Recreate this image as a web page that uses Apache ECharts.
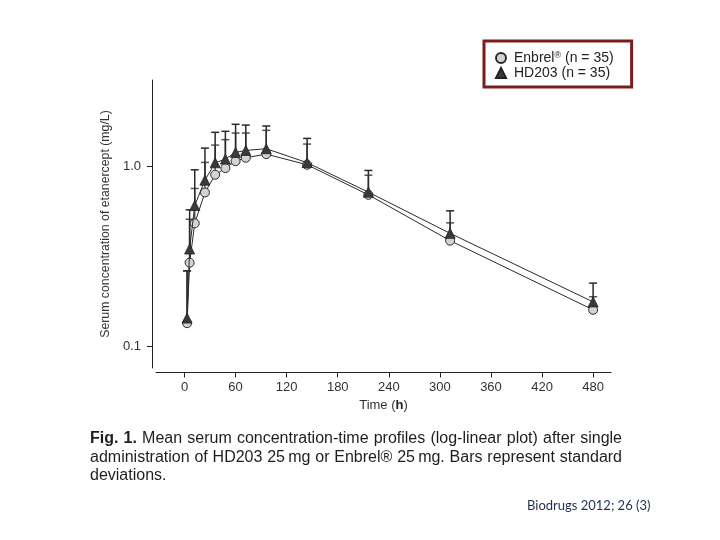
<!DOCTYPE html>
<html><head><meta charset="utf-8">
<script src="https://cdn.jsdelivr.net/npm/echarts@6/dist/echarts.min.js"></script>
<style>html,body{margin:0;padding:0;background:#fff}#c{width:720px;height:540px}</style>
</head><body><div id="c"></div>
<script>
// ---- data ----
const times = [3, 6, 12, 24, 36, 48, 60, 72, 96, 144, 216, 312, 480];
const enbrelMean  = [0.134, 0.291, 0.482, 0.716, 0.899, 0.979, 1.070, 1.118, 1.171, 1.022, 0.695, 0.386, 0.159];
const enbrelUpper = [0.262, 0.508, 0.754, 1.053, 1.315, 1.410, 1.535, 1.535, 1.589, 1.332, 0.894, 0.485, 0.188];
const hd203Mean   = [0.143, 0.347, 0.606, 0.839, 1.048, 1.099, 1.197, 1.228, 1.255, 1.050, 0.719, 0.424, 0.176];
const hd203Upper  = [0.262, 0.573, 0.958, 1.265, 1.549, 1.569, 1.717, 1.700, 1.680, 1.433, 0.950, 0.566, 0.224];
const xTicks = [0, 60, 120, 180, 240, 300, 360, 420, 480];
const yTicks = [0.1, 1];
const yTickLabels = ['0.1', '1.0'];
const seriesNames = ['Enbrel', 'HD203'];
const legendLabels = ['Enbrel® (n = 35)', 'HD203 (n = 35)'];
const captionLines = [
  'Fig. 1. Mean serum concentration-time profiles (log-linear plot) after single',
  'administration of HD203 25\u2009mg or Enbrel® 25\u2009mg. Bars represent standard',
  'deviations.'
];
const sourceText = 'Biodrugs 2012; 26 (3)';

// ---- chart ----
const FONT = '"Liberation Sans", Arial, Helvetica, sans-serif';
const chart = echarts.init(document.getElementById('c'), null, {renderer: 'canvas'});

function errorSeries(name, means, uppers, color) {
  return {
    type: 'custom', name: name, z: 1, silent: true,
    data: times.map((t, i) => [t, means[i], uppers[i]]),
    encode: {x: 0, y: [1, 2]},
    renderItem(params, api) {
      const p0 = api.coord([api.value(0), api.value(1)]);
      const p1 = api.coord([api.value(0), api.value(2)]);
      const hw = 4;
      return {type: 'group', children: [
        {type: 'line', shape: {x1: p0[0], y1: p0[1], x2: p1[0], y2: p1[1]}, style: {stroke: color, lineWidth: 1.5}},
        {type: 'line', shape: {x1: p1[0] - hw, y1: p1[1], x2: p1[0] + hw, y2: p1[1]}, style: {stroke: color, lineWidth: 1.5}}
      ]};
    }
  };
}

// justified caption built from words
const mctx = document.createElement('canvas').getContext('2d');
const capLeft = 90, capRight = 622, capTop = 439, capStep = 18.5, capSize = 16;
const graphics = [];
captionLines.forEach((line, li) => {
  const words = line.split(' ');
  const fonts = words.map((w, wi) => (li === 0 && wi < 2) ? 'bold ' + capSize + 'px ' + FONT : capSize + 'px ' + FONT);
  const widths = words.map((w, wi) => { mctx.font = fonts[wi]; return mctx.measureText(w).width; });
  const total = widths.reduce((a, b) => a + b, 0);
  const justify = li < captionLines.length - 1;
  mctx.font = capSize + 'px ' + FONT;
  const gap = justify ? (capRight - capLeft - total) / (words.length - 1) : mctx.measureText(' ').width;
  let x = capLeft;
  words.forEach((w, wi) => {
    graphics.push({type: 'text', x: x, y: capTop + li * capStep, silent: true,
      style: {text: w, font: fonts[wi], fill: '#1e1e1e', verticalAlign: 'middle', align: 'left'}});
    x += widths[wi] + gap;
  });
});
graphics.push({type: 'text', left: 527, top: 499, silent: true,
  style: {text: sourceText, fontFamily: 'Lato', fontSize: 13, fill: '#1f3050'}});

const option = {
  animation: false,
  backgroundColor: '#ffffff',
  textStyle: {fontFamily: FONT},
  grid: {left: 156, right: 109, top: 80, bottom: 172},
  legend: {
    left: 484, top: 41, orient: 'vertical', selectedMode: false,
    itemWidth: 10, itemHeight: 10, itemGap: 1,
    padding: [10, 18, 7, 11],
    borderColor: '#7a1c1c', borderWidth: 3, borderRadius: 0,
    data: [{name: seriesNames[0], icon: 'circle'}, {name: seriesNames[1], icon: 'triangle'}],
    formatter: n => n === seriesNames[0] ? '{g| }{a|Enbrel}{s|®}{a| (n = 35)}' : '{g| }{a|' + legendLabels[1] + '}',
    textStyle: {fontSize: 14, color: '#222', fontFamily: FONT,
      rich: {g: {width: 3, fontSize: 14}, a: {fontSize: 14, color: '#222', fontFamily: FONT}, s: {fontSize: 9, color: '#222', verticalAlign: 'top', fontFamily: FONT}}}
  },
  xAxis: {
    type: 'value', min: -33.5, max: 501, offset: 4.5,
    axisLine: {onZero: false, lineStyle: {color: '#222', width: 1}},
    axisTick: {customValues: xTicks, length: 5, lineStyle: {color: '#222'}},
    axisLabel: {customValues: xTicks, margin: 8, fontSize: 13, color: '#333', fontFamily: FONT},
    splitLine: {show: false},
    name: '{n|Time (}{b|h}{n|)}', nameLocation: 'middle', nameGap: 26,
    nameTextStyle: {fontSize: 13, color: '#333', rich: {n: {fontSize: 13, color: '#333'}, b: {fontSize: 13, color: '#222', fontWeight: 'bold'}}}
  },
  yAxis: {
    type: 'log', logBase: 10, min: 0.0754, max: 3.03, offset: 4,
    axisLine: {show: true, onZero: false, lineStyle: {color: '#222', width: 1}},
    axisTick: {show: true, customValues: yTicks, length: 5, lineStyle: {color: '#222'}},
    axisLabel: {customValues: yTicks, margin: 11, fontSize: 13, color: '#333', fontFamily: FONT,
      formatter: v => yTickLabels[yTicks.findIndex(t => Math.abs(t - v) < 1e-6 * Math.max(1, t))] || ''},
    splitLine: {show: false},
    name: 'Serum concentration of etanercept (mg/L)', nameLocation: 'middle', nameGap: 39,
    nameTextStyle: {fontSize: 12.3, color: '#333'}
  },
  series: [
    errorSeries('Enbrel SD', enbrelMean, enbrelUpper, '#555'),
    errorSeries('HD203 SD', hd203Mean, hd203Upper, '#2a2a2a'),
    {type: 'line', name: seriesNames[0], z: 3, data: times.map((t, i) => [t, enbrelMean[i]]),
      symbol: 'circle', symbolSize: 9,
      itemStyle: {color: '#d3d3d3', borderColor: '#2a2a2a', borderWidth: 1},
      lineStyle: {color: '#2a2a2a', width: 1}},
    {type: 'line', name: seriesNames[1], z: 4, data: times.map((t, i) => [t, hd203Mean[i]]),
      symbol: 'triangle', symbolSize: 10,
      itemStyle: {color: '#3a3a3a', borderColor: '#222', borderWidth: 0.8},
      lineStyle: {color: '#2a2a2a', width: 1}}
  ],
  graphic: graphics
};
chart.setOption(option);
</script></body></html>
